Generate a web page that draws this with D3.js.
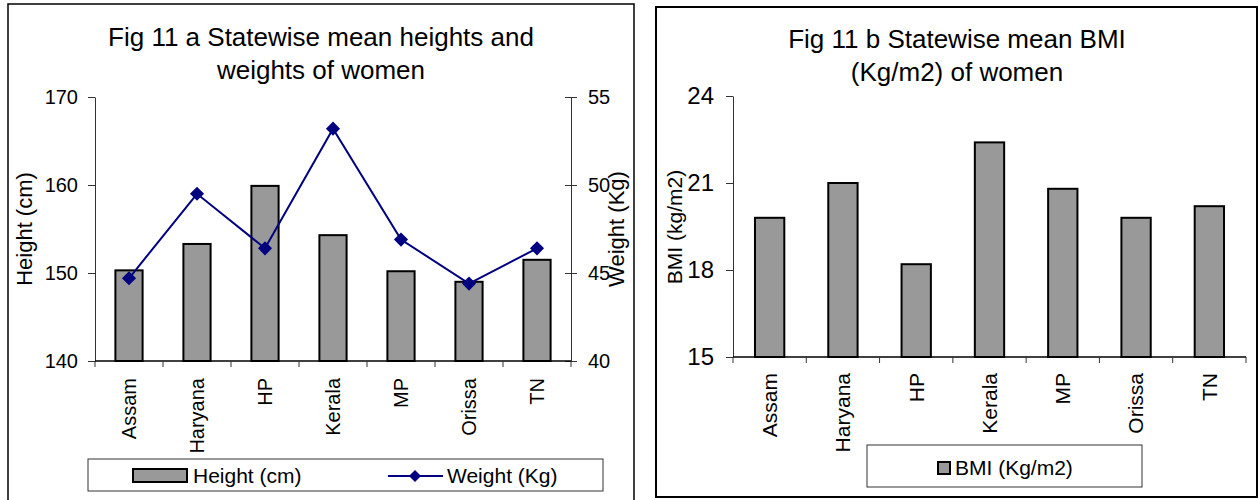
<!DOCTYPE html>
<html>
<head>
<meta charset="utf-8">
<script src="https://cdn.jsdelivr.net/npm/d3@7/dist/d3.min.js"></script>
<style>
  html, body { margin: 0; padding: 0; background: #fff; }
  svg { display: block; font-family: "Liberation Sans", Arial, sans-serif; }
</style>
</head>
<body>
<svg id="fig" width="1259" height="500"></svg>
<script>
// State-wise anthropometry of women
const states = ["Assam", "Haryana", "HP", "Kerala", "MP", "Orissa", "TN"];
const heightCm = [150.3, 153.3, 159.9, 154.3, 150.2, 149.0, 151.5];
const weightKg = [44.7, 49.5, 46.4, 53.2, 46.9, 44.4, 46.4];
const bmiValues = [19.8, 21.0, 18.2, 22.4, 20.8, 19.8, 20.2];

const heightTicks = [140, 150, 160, 170];
const weightTicks = [40, 45, 50, 55];
const bmiTicks = [15, 18, 21, 24];

const titleA = ["Fig 11 a Statewise mean heights and", "weights of women"];
const titleB = ["Fig 11 b Statewise mean BMI", "(Kg/m2) of women"];

const BAR_FILL = "#999999";
const LINE_COL = "#000080";

const svg = d3.select("#fig");

// ---------- panel frames ----------
svg.append("rect").attr("x", 8).attr("y", 4).attr("width", 626).attr("height", 500)
  .attr("fill", "none").attr("stroke", "#000").attr("stroke-width", 1.5);
svg.append("rect").attr("x", 656).attr("y", 7).attr("width", 601).attr("height", 490)
  .attr("fill", "none").attr("stroke", "#000").attr("stroke-width", 2);

function title(lines, cx, y0) {
  svg.append("g").selectAll("text").data(lines).join("text")
    .attr("x", cx).attr("y", (d, i) => y0 + i * 32.5)
    .attr("text-anchor", "middle").attr("font-size", 26).attr("fill", "#000")
    .text(d => d);
}

function styleAxis(g, fontSize) {
  g.select(".domain").attr("stroke", "#333").attr("stroke-width", 1);
  g.selectAll(".tick line").attr("stroke", "#333").attr("stroke-width", 1);
  g.selectAll(".tick text").attr("font-size", fontSize).attr("fill", "#000")
    .attr("font-family", "'Liberation Sans', Arial, sans-serif");
}

function categoryAxis(x0, x1, yBase, labelY, fontSize) {
  const pos = d3.scaleLinear().domain([0, states.length]).range([x0, x1]);
  const g = svg.append("g");
  g.append("line").attr("x1", x0).attr("x2", x1).attr("y1", yBase).attr("y2", yBase)
    .attr("stroke", "#000").attr("stroke-width", 1.5);
  g.selectAll("line.ct").data(d3.range(states.length + 1)).join("line").attr("class", "ct")
    .attr("x1", d => pos(d)).attr("x2", d => pos(d))
    .attr("y1", yBase).attr("y2", yBase + 6)
    .attr("stroke", "#333").attr("stroke-width", 1);
  g.selectAll("text").data(states).join("text")
    .attr("transform", (d, i) => `translate(${pos(i + 0.5)},${labelY}) rotate(-90)`)
    .attr("dy", "0.35em").attr("text-anchor", "end")
    .attr("font-size", fontSize).attr("fill", "#000")
    .text(d => d);
}

// ---------- Fig 11 a : heights (bars) and weights (line) ----------
{
  const left = 95, right = 571, top = 97, bottom = 361;
  title(titleA, 321, 46);

  const x = d3.scaleBand().domain(states).range([left, right])
    .paddingInner(0.6).paddingOuter(0.3);
  const xc = d3.scaleBand().domain(states).range([left, right]);
  const yH = d3.scaleLinear().domain([140, 170]).range([bottom, top]);
  const yW = d3.scaleLinear().domain([40, 55]).range([bottom, top]);

  svg.append("g").selectAll("rect").data(heightCm).join("rect")
    .attr("x", (d, i) => x(states[i])).attr("width", x.bandwidth())
    .attr("y", d => yH(d)).attr("height", d => bottom - yH(d))
    .attr("fill", BAR_FILL).attr("stroke", "#000").attr("stroke-width", 2);

  const gl = svg.append("g").attr("transform", `translate(${left},0)`)
    .call(d3.axisLeft(yH).tickValues(heightTicks).tickSize(7).tickSizeOuter(0).tickPadding(10));
  styleAxis(gl, 20);

  const gr = svg.append("g").attr("transform", `translate(${right},0)`)
    .call(d3.axisRight(yW).tickValues(weightTicks).tickSize(6).tickSizeOuter(0).tickPadding(11));
  styleAxis(gr, 20);
  gr.selectAll(".tick line").attr("x1", -6);

  categoryAxis(left, right, bottom, 378, 20);

  const line = d3.line().x((d, i) => xc(states[i]) + xc.bandwidth() / 2).y(d => yW(d));
  svg.append("path").datum(weightKg).attr("d", line)
    .attr("fill", "none").attr("stroke", LINE_COL).attr("stroke-width", 2);
  const diamond = d3.symbol().type(d3.symbolSquare).size(100);
  svg.append("g").selectAll("path").data(weightKg).join("path")
    .attr("d", diamond)
    .attr("transform", (d, i) => `translate(${xc(states[i]) + xc.bandwidth() / 2},${yW(d)}) rotate(45)`)
    .attr("fill", LINE_COL);

  svg.append("text").attr("transform", "translate(32,229) rotate(-90)")
    .attr("text-anchor", "middle").attr("font-size", 22).text("Height (cm)");
  svg.append("text").attr("transform", "translate(624,229) rotate(-90)")
    .attr("text-anchor", "middle").attr("font-size", 22).text("Weight (Kg)");

  // legend
  const lg = svg.append("g");
  lg.append("rect").attr("x", 88).attr("y", 459).attr("width", 515).attr("height", 32)
    .attr("fill", "#fff").attr("stroke", "#333").attr("stroke-width", 1);
  lg.append("rect").attr("x", 133).attr("y", 469).attr("width", 54).attr("height", 13)
    .attr("fill", BAR_FILL).attr("stroke", "#000").attr("stroke-width", 2);
  lg.append("text").attr("x", 193).attr("y", 483).attr("font-size", 21).text("Height (cm)");
  lg.append("line").attr("x1", 388).attr("x2", 443).attr("y1", 476).attr("y2", 476)
    .attr("stroke", LINE_COL).attr("stroke-width", 2);
  lg.append("path").attr("d", d3.symbol().type(d3.symbolSquare).size(72)())
    .attr("transform", "translate(415,476) rotate(45)").attr("fill", LINE_COL);
  lg.append("text").attr("x", 447).attr("y", 483).attr("font-size", 21).text("Weight (Kg)");
}

// ---------- Fig 11 b : BMI ----------
{
  const left = 733, right = 1246, top = 96, bottom = 357;
  title(titleB, 957, 48);

  const x = d3.scaleBand().domain(states).range([left, right])
    .paddingInner(0.6).paddingOuter(0.3);
  const y = d3.scaleLinear().domain([15, 24]).range([bottom, top]);

  svg.append("g").selectAll("rect").data(bmiValues).join("rect")
    .attr("x", (d, i) => x(states[i])).attr("width", x.bandwidth())
    .attr("y", d => y(d)).attr("height", d => bottom - y(d))
    .attr("fill", BAR_FILL).attr("stroke", "#000").attr("stroke-width", 2);

  const gl = svg.append("g").attr("transform", `translate(${left},0)`)
    .call(d3.axisLeft(y).tickValues(bmiTicks).tickSize(7).tickSizeOuter(0).tickPadding(12));
  styleAxis(gl, 24);

  categoryAxis(left, right, bottom, 373, 21);

  svg.append("text").attr("transform", "translate(682,227) rotate(-90)")
    .attr("text-anchor", "middle").attr("font-size", 21).text("BMI (kg/m2)");

  const lg = svg.append("g");
  lg.append("rect").attr("x", 867).attr("y", 445).attr("width", 275).attr("height", 42)
    .attr("fill", "#fff").attr("stroke", "#333").attr("stroke-width", 1);
  lg.append("rect").attr("x", 938).attr("y", 462).attr("width", 12).attr("height", 12)
    .attr("fill", BAR_FILL).attr("stroke", "#000").attr("stroke-width", 2);
  lg.append("text").attr("x", 955).attr("y", 475).attr("font-size", 21).text("BMI (Kg/m2)");
}
</script>
</body>
</html>
